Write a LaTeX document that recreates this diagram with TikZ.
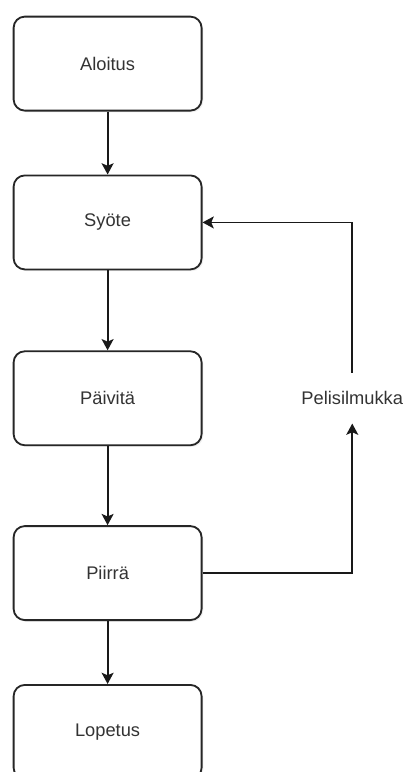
\documentclass[tikz,border=0pt]{standalone}
\usepackage{fontspec}
\setmainfont{Liberation Sans}
\usepackage{tikz}
\usetikzlibrary{
  positioning,
  arrows.meta,
  shadows
}

\begin{document}
\begin{tikzpicture}[
  font=\fontsize{13}{15}\selectfont,
  node distance=1.6cm,
  stage/.style={
    rectangle,
    rounded corners=8pt,
    draw=black!85,
    fill=white,
    line width=1.3pt,
    minimum width=4.7cm,
    minimum height=2.35cm,
    text=black!80,
    align=center,
    drop shadow={opacity=0.12, shadow xshift=1.2pt, shadow yshift=-1.2pt}
  },
  looptext/.style={
    rectangle,
    minimum height=1.25cm,
    text=black!80,
    align=center
  },
  arrow/.style={
    -{Stealth[length=8pt, width=8.5pt, inset=1.8pt]},
    line width=1.3pt,
    draw=black!90
  }
]
\useasboundingbox (0,0) rectangle (10.2,-19.3);

% Game stages
\node[stage] (aloitus) at (2.69,-1.59) {Aloitus};
\node[stage, below=1.575cm of aloitus] (syote) {Syöte};
\node[stage, below=2.0cm of syote] (paivita) {Päivitä};
\node[stage, below=1.975cm of paivita] (piirra) {Piirrä};
\node[stage, below=1.575cm of piirra] (lopetus) {Lopetus};

% Loop label
\node[looptext, right=2.35cm of paivita] (loop) {Pelisilmukka};

% Transitions
\draw[arrow] (aloitus) -- (syote);
\draw[arrow] (syote) -- (paivita);
\draw[arrow] (paivita) -- (piirra);
\draw[arrow] (piirra) -- (lopetus);

\draw[arrow] (piirra.east) -| (loop.south);
\draw[arrow] (loop.north) |- (syote.east);

\end{tikzpicture}
\end{document}
